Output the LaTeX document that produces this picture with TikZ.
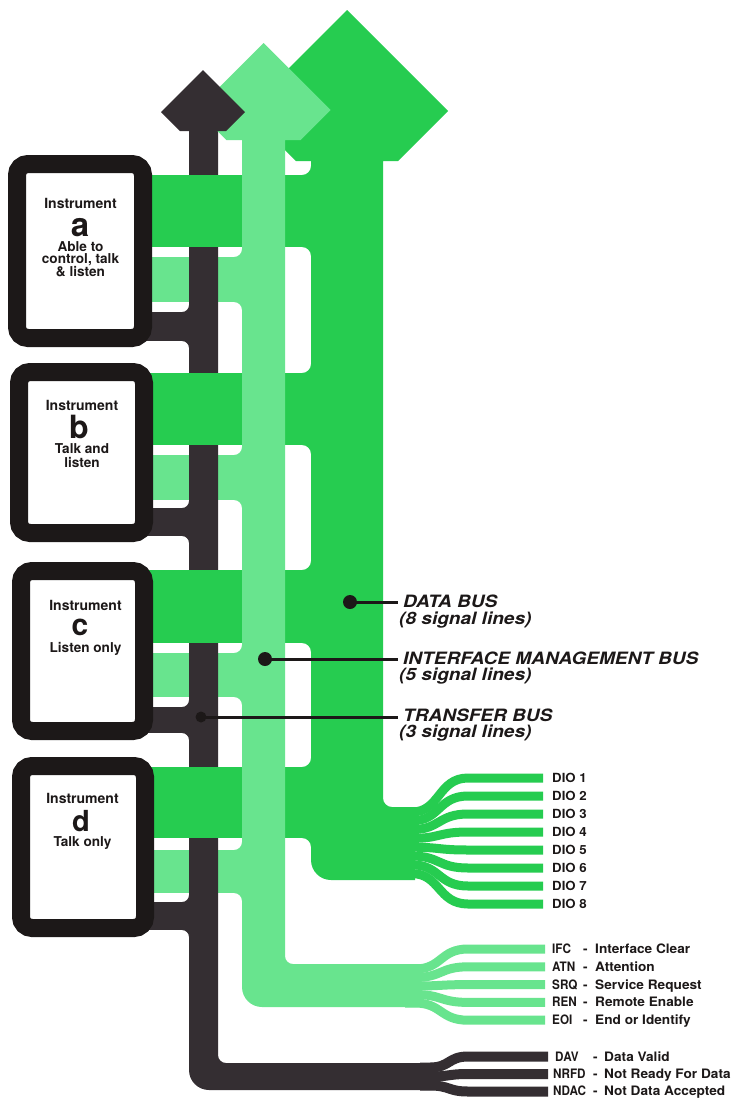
\documentclass[tikz,border=0pt]{standalone}
\usepackage{fontspec}
\setmainfont{TeX Gyre Heros}
\newfontfamily\busfont[FakeStretch=1.12]{TeX Gyre Heros}
\newfontfamily\listfont[FakeStretch=1.05]{TeX Gyre Heros}
\newfontfamily\abbfont[FakeStretch=0.9]{TeX Gyre Heros}
\definecolor{dg}{RGB}{38,204,80}
\definecolor{lg}{RGB}{104,228,142}
\definecolor{dk}{RGB}{52,46,50}
\definecolor{bx}{RGB}{28,24,24}
% fillet: colour, corner x, corner y, dx, dy
\newcommand{\fil}[5]{\fill[#1] ({#2},{#3+(#5)}) .. controls ({#2},{#3+0.448*(#5)}) and ({#2+0.448*(#4)},{#3}) .. ({#2+(#4)},{#3}) -- ({#2},{#3}) -- cycle;}
\tikzset{
  ibox/.style={draw=bx, line width=18pt, fill=white, rounded corners=11pt, inner sep=0pt},
  inst/.style={font=\fontsize{14}{14}\selectfont\bfseries, text=bx, inner sep=0pt, anchor=base},
  desc/.style={font=\fontsize{13.6}{13.6}\selectfont\bfseries, text=bx, inner sep=0pt, anchor=base},
  bus/.style={font=\busfont\fontsize{17}{17}\selectfont\bfseries\itshape, text=bx, inner sep=0pt, anchor=base west},
  sig/.style={font=\listfont\fontsize{13}{13}\selectfont\bfseries, text=bx, inner sep=0pt, anchor=base west},
  abb/.style={font=\abbfont\fontsize{13}{13}\selectfont\bfseries, text=bx, inner sep=0pt, anchor=base west},
  dio/.style={font=\listfont\fontsize{12.6}{12.6}\selectfont\bfseries, text=bx, inner sep=0pt, anchor=base west},
  leader/.style={draw=bx, line width=3pt},
}
\begin{document}
\begin{tikzpicture}[x=1pt,y=-1pt]
\path[use as bounding box] (0,0) rectangle (732,1098);
\fill[white] (0,0) rectangle (732,1098);

% ---- interface management stubs (under the transfer bus)
\foreach \a/\b in {257/302,455/500,653/697,850/893}{
  \fill[lg] (140,\a) rectangle (252,\b);
  \fil{lg}{242}{\a}{-8}{-8}
  \fil{lg}{242}{\b}{-8}{8}
}

% ---- transfer bus body
\fill[dk] (189,131) -- (189,1070) .. controls (189,1081.04) and (197.96,1090) .. (209,1090)
  -- (438,1090) -- (438,1063) -- (226,1063) .. controls (221.58,1063) and (218,1059.42) .. (218,1055)
  -- (218,131) -- cycle;
\foreach \a/\b in {312/341,508/536,707/733,902/930}{
  \fill[dk] (140,\a) rectangle (195,\b);
  \fil{dk}{189}{\a}{-7}{-7}
  \fil{dk}{189}{\b}{-7}{7}
}
\foreach \k in {0,1,2}{
  \pgfmathsetmacro\ys{1067.5+9*\k}
  \pgfmathsetmacro\ye{1056.5+17.5*\k}
  \draw[dk, line width=10pt] (420,\ys) -- (430,\ys) .. controls (450,\ys) and (448,\ye) .. (468,\ye) -- (548,\ye);
}

% ---- data bus body
\fill[dg] (311,161) -- (296,161) -- (246,111) -- (347,10) -- (448,111) -- (398,161) -- (383,161)
  -- (383,798) .. controls (383,802.97) and (387.03,807) .. (392,807) -- (415,807) -- (415,880)
  -- (331,880) .. controls (319.96,880) and (311,871.04) .. (311,860) -- cycle;
\foreach \a/\b in {175/247,373/445,570/643,767/838}{
  \fill[dg] (140,\a) rectangle (320,\b);
  \fil{dg}{311}{\a}{-9}{-9}
  \fil{dg}{311}{\b}{-9}{9}
}
\foreach \k in {0,...,7}{
  \pgfmathsetmacro\ys{812+8.8*\k}
  \pgfmathsetmacro\ye{778+18*\k}
  \draw[dg, line width=9pt] (400,\ys) -- (412,\ys) .. controls (440,\ys) and (438,\ye) .. (468,\ye) -- (543,\ye);
}

% ---- interface management body
\fill[lg] (242,140) -- (226.5,140) -- (196.5,110) -- (263.5,43) -- (330.5,110) -- (300.5,140) -- (285,140)
  -- (285,956) .. controls (285,960.42) and (288.58,964) .. (293,964) -- (420,964) -- (420,1007)
  -- (262,1007) .. controls (250.96,1007) and (242,998.04) .. (242,987) -- cycle;
\foreach \k in {0,...,4}{
  \pgfmathsetmacro\ys{969+8.5*\k}
  \pgfmathsetmacro\ye{949+17.8*\k}
  \draw[lg, line width=9pt] (405,\ys) -- (415,\ys) .. controls (442,\ys) and (440,\ye) .. (468,\ye) -- (545,\ye);
}

% ---- transfer bus arrow head (on top)
\fill[dk] (189,131) -- (180,131) -- (161,112) -- (203,70) -- (245,112) -- (226,131) -- (218,131) -- cycle;

% ---- instruments
\node[ibox, minimum width=126pt, minimum height=174pt] (boxa) at (80,251) {};
\node[ibox, minimum width=125pt, minimum height=161pt] (boxb) at (81.5,452.5) {};
\node[ibox, minimum width=123pt, minimum height=160pt] (boxc) at (82.5,651) {};
\node[ibox, minimum width=124pt, minimum height=162pt] (boxd) at (83,847) {};

\node[inst] (ia) at (80.5,208.5) {Instrument};
\node[inst, font=\fontsize{33}{33}\selectfont\bfseries] (la) at (80,236) {a};
\node[desc] (da1) at (80.5,251.3) {Able to};
\node[desc] (da2) at (80.5,263.8) {control, talk};
\node[desc] (da3) at (80.5,276) {\& listen};

\node[inst] (ib) at (82,410.7) {Instrument};
\node[inst, font=\fontsize{32}{32}\selectfont\bfseries] (lb) at (79,438.7) {b};
\node[desc] (db1) at (82,453.3) {Talk and};
\node[desc] (db2) at (82,467) {listen};

\node[inst] (ic) at (85.5,610) {Instrument};
\node[inst, font=\fontsize{30}{30}\selectfont\bfseries] (lc) at (80,635) {c};
\node[desc] (dc1) at (85.5,652.7) {Listen only};

\node[inst] (id) at (82.5,803.3) {Instrument};
\node[inst, font=\fontsize{29}{29}\selectfont\bfseries] (ld) at (81,831) {d};
\node[desc] (dd1) at (82.5,846) {Talk only};

% ---- bus labels
\coordinate (pDB) at (350,602);
\coordinate (pIM) at (265,659);
\coordinate (pTB) at (201,717);
\node[bus] (tDB) at (403,607.5) {DATA BUS};
\node[bus] (tDB2) at (399,624.5) {(8 signal lines)};
\node[bus] (tIM) at (403,664.5) {INTERFACE MANAGEMENT BUS};
\node[bus] (tIM2) at (399,680) {(5 signal lines)};
\node[bus] (tTB) at (403,721.5) {TRANSFER BUS};
\node[bus] (tTB2) at (399,737) {(3 signal lines)};
\draw[leader] (pDB) -- ([xshift=-5pt]pDB -| tDB.west);
\draw[leader] (pIM) -- ([xshift=-5pt]pIM -| tIM.west);
\draw[leader] (pTB) -- ([xshift=-5pt]pTB -| tTB.west);
\fill[bx] (pDB) circle (7pt);
\fill[bx] (pIM) circle (7pt);
\fill[bx] (pTB) circle (5.5pt);

% ---- signal line names
\foreach \k in {1,...,8}{
  \pgfmathsetmacro\yb{778+18*(\k-1)+4.8}
  \node[dio] (dio\k) at (552,\yb) {DIO \k};
}
\foreach \ab/\ds/\yy [count=\i] in {IFC/Interface Clear/953.5,ATN/Attention/971.2,SRQ/Service Request/989,REN/Remote Enable/1006.8,EOI/End or Identify/1024.5}{
  \node[abb] (ma\i) at (552,\yy) {\ab};
  \node[sig] (md\i) at (583,\yy) {-};
  \node[sig] (mt\i) at (595,\yy) {\ds};
}
\node[abb] (ta1) at (555,1061.5) {DAV};
\node[abb] (ta2) at (553,1078.5) {NRFD};
\node[abb] (ta3) at (553,1095) {NDAC};
\foreach \yy/\ds [count=\i] in {1061.5/Data Valid,1078.5/Not Ready For Data,1095/Not Data Accepted}{
  \node[sig] (td\i) at (593,\yy) {-};
  \node[sig] (tt\i) at (604,\yy) {\ds};
}
\end{tikzpicture}
\end{document}
